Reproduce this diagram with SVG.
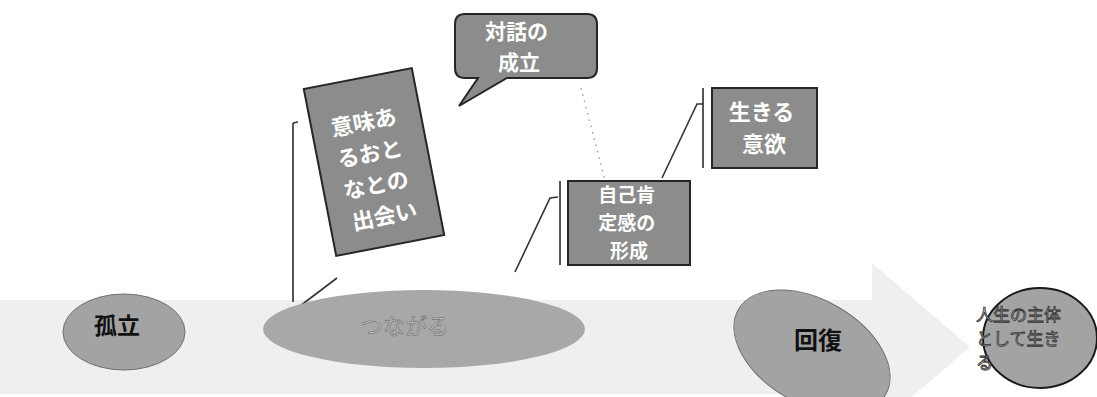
<svg xmlns="http://www.w3.org/2000/svg" width="1097" height="397" viewBox="0 0 1097 397">
<defs>
<style>
.box{fill:#8c8c8c;stroke:#262626;stroke-width:2}
.ell{fill:#a3a3a3;stroke:#6e6e6e;stroke-width:1}
.wt{fill:#ffffff;font-family:"Noto Sans CJK JP","Noto Sans CJK SC",sans-serif;font-weight:bold;text-anchor:middle}
.bt{fill:#111111;font-family:"Noto Sans CJK JP","Noto Sans CJK SC",sans-serif;font-weight:bold;text-anchor:middle}
.ln{fill:none;stroke:#333333;stroke-width:1.6}
.bar{fill:none;stroke:#555555;stroke-width:2}
</style>
</defs>
<rect x="0" y="0" width="1097" height="397" fill="#ffffff"/>
<g id="big-arrow">
<path d="M0,300 H872 V263 L970,347 L872,431 V394 H0 Z" fill="#efefef"/>
</g>
<g id="connectors">
<line class="bar" x1="293" y1="123" x2="293" y2="302"/>
<line class="ln" x1="293" y1="123" x2="298" y2="122"/>
<line class="ln" x1="337" y1="278" x2="300" y2="306"/>
<line class="bar" x1="560" y1="181" x2="560" y2="265"/>
<polyline class="ln" points="515,272 550,198 558,197"/>
<line class="bar" x1="703" y1="88" x2="703" y2="168"/>
<polyline class="ln" points="662,178 697,104 703,104"/>
<line x1="581" y1="88" x2="607" y2="188" stroke="#9a9a9a" stroke-width="1.4" stroke-dasharray="1.5 5"/>
</g>
<g id="node-koritsu">
<ellipse class="ell" cx="124" cy="332" rx="61" ry="38"/>
<text class="bt" x="117" y="334" font-size="23">孤立</text>
</g>
<g id="node-tsunagaru">
<ellipse cx="424" cy="329" rx="161" ry="39" fill="#a8a8a8"/>
<text x="405" y="334" font-size="22" fill="#c4c4c4" stroke="#777777" stroke-width="0.7" font-family="Noto Sans CJK JP,sans-serif" text-anchor="middle">つながる</text>
</g>
<g id="node-kaifuku">
<ellipse class="ell" cx="812" cy="352" rx="85" ry="52" transform="rotate(30 812 352)"/>
<text class="bt" x="818" y="349" font-size="24">回復</text>
</g>
<g id="node-jinsei">
<ellipse cx="1040" cy="338" rx="57" ry="50" fill="#a3a3a3" stroke="#1a1a1a" stroke-width="2"/>
<text font-family="Noto Sans CJK JP,sans-serif" font-size="17" fill="#b8b8b8" stroke="#333" stroke-width="0.8">
<tspan x="976" y="321">人生の主体</tspan>
<tspan x="976" y="345">として生き</tspan>
<tspan x="976" y="369">る</tspan>
</text>
</g>
<g id="node-deai" transform="translate(374 162) rotate(-11)">
<rect class="box" x="-55" y="-85" width="110" height="170"/>
<text class="wt" font-size="22">
<tspan x="0" y="-33">意味あ</tspan>
<tspan x="0" y="-1">るおと</tspan>
<tspan x="0" y="31">なとの</tspan>
<tspan x="0" y="63">出会い</tspan>
</text>
</g>
<g id="node-taiwa">
<path class="box" d="M465,14 H587 Q597,14 597,24 V68 Q597,78 587,78 H507 L459,106 L478,78 H465 Q455,78 455,68 V24 Q455,14 465,14 Z"/>
<text class="wt" font-size="21">
<tspan x="519" y="39">対話の</tspan>
<tspan x="519" y="70">成立</tspan>
</text>
</g>
<g id="node-jiko">
<rect class="box" x="568" y="181" width="122" height="84"/>
<text class="wt" font-size="19">
<tspan x="629" y="202">自己肯</tspan>
<tspan x="629" y="230">定感の</tspan>
<tspan x="629" y="258">形成</tspan>
</text>
</g>
<g id="node-ikiru">
<rect class="box" x="712" y="88" width="105" height="80"/>
<text class="wt" font-size="22">
<tspan x="764" y="120">生きる</tspan>
<tspan x="764" y="152">意欲</tspan>
</text>
</g>
</svg>
